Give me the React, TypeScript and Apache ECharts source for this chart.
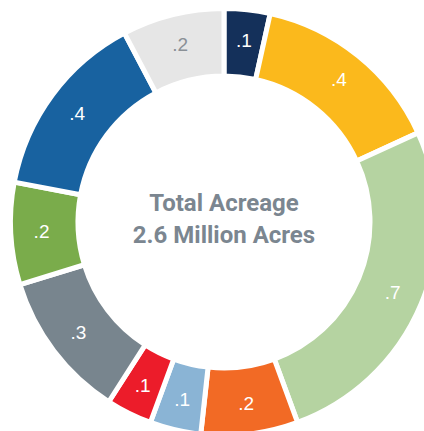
import React, { useEffect, useRef } from "react";
import * as echarts from "echarts";

const categories = ["A", "B", "C", "D", "E", "F", "G", "H", "I", "J"];
const values = [0.09, 0.38, 0.68, 0.19, 0.1, 0.09, 0.29, 0.2, 0.37, 0.2];
const colors = ["#14305a", "#fbb91c", "#b5d3a1", "#f26a25", "#8ab4d5", "#ec1c2a", "#78858e", "#7aac4b", "#1862a0", "#e6e6e6"];
const labelColors = ["#fff", "#fff", "#fff", "#fff", "#fff", "#fff", "#fff", "#fff", "#fff", "#8a9096"];
const centerLines = ["Total Acreage", "2.6 Million Acres"];

export default function App() {
  const ref = useRef<HTMLDivElement>(null);
  useEffect(() => {
    document.body.style.margin = "0";
    const chart = echarts.init(ref.current!, null, { renderer: "svg" });
    chart.setOption({
      animation: false,
      series: [
        {
          type: "pie",
          center: [224, 222],
          radius: [146, 213.5],
          startAngle: 90,
          clockwise: true,
          avoidLabelOverlap: false,
          itemStyle: { borderColor: "#fff", borderWidth: 5 },
          label: {
            show: true,
            position: "inside",
            fontFamily: "Liberation Sans",
            fontSize: 19,
            formatter: (p: any) => (Math.round(p.value * 10) / 10).toFixed(1).replace(/^0/, ""),
          },
          labelLine: { show: false },
          emphasis: { disabled: true },
          data: categories.map((c, i) => ({
            name: c,
            value: values[i],
            itemStyle: { color: colors[i] },
            label: { color: labelColors[i] },
          })),
        },
      ],
      graphic: centerLines.map((t, i) => ({
        type: "text",
        x: 224,
        y: 203 + i * 32,
        style: {
          text: t,
          fill: "#7b8690",
          fontFamily: "Roboto",
          fontWeight: "bold",
          fontSize: 24,
          textAlign: "center",
          textVerticalAlign: "middle",
        },
      })),
    });
    return () => chart.dispose();
  }, []);
  return <div ref={ref} style={{ position: "absolute", left: 0, top: 0, width: 424, height: 431 }} />;
}
